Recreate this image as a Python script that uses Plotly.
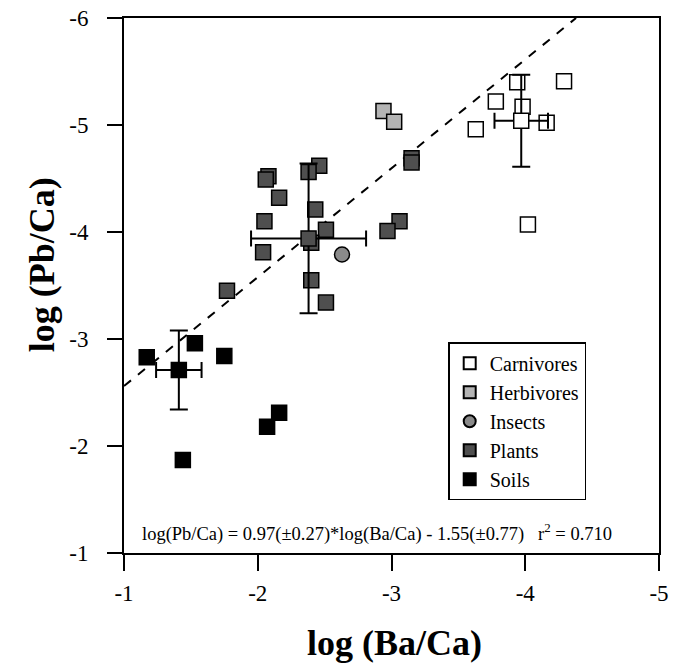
import plotly.graph_objects as go

# ---- data ----
carn_x = [-4.29, -3.94, -3.78, -3.98, -4.16, -3.63, -4.02]
carn_y = [-5.41, -5.40, -5.22, -5.17, -5.02, -4.96, -4.07]
carn_mean_x, carn_mean_y = [-3.97], [-5.04]
carn_err_x, carn_err_y = [0.20], [0.43]

herb_x = [-2.94, -3.02]
herb_y = [-5.13, -5.03]

ins_x = [-2.63]
ins_y = [-3.79]

plant_x = [-2.46, -2.38, -2.08, -2.06, -2.16, -2.43, -2.05, -2.51, -2.40, -2.04,
           -3.06, -2.97, -3.15, -3.15, -1.77, -2.40, -2.51]
plant_y = [-4.62, -4.56, -4.52, -4.49, -4.32, -4.21, -4.10, -4.02, -3.90, -3.81,
           -4.10, -4.01, -4.69, -4.65, -3.45, -3.55, -3.34]
plant_mean_x, plant_mean_y = [-2.38], [-3.94]
plant_err_x, plant_err_y = [0.43], [0.70]

soil_x = [-1.17, -1.53, -1.75, -2.16, -2.07, -1.44]
soil_y = [-2.83, -2.96, -2.84, -2.31, -2.18, -1.87]
soil_mean_x, soil_mean_y = [-1.41], [-2.71]
soil_err_x, soil_err_y = [0.17], [0.37]

fit_x = [-1.0, -4.38]
fit_y = [-2.56, -6.0]

x_ticks = [-1, -2, -3, -4, -5]
y_ticks = [-1, -2, -3, -4, -5, -6]

FONT = "Liberation Serif, Times New Roman, serif"
SQ = 15
BORDER = dict(color="black", width=1.5)

fig = go.Figure()

fig.add_trace(go.Scatter(x=fit_x, y=fit_y, mode="lines",
                         line=dict(color="black", width=2, dash="dash"),
                         showlegend=False, hoverinfo="skip"))

def err(vals, w):
    return dict(type="data", array=vals, color="black", thickness=2, width=w)

# Carnivores
fig.add_trace(go.Scatter(x=carn_x, y=carn_y, mode="markers", name="Carnivores",
                         legendgroup="c",
                         marker=dict(symbol="square", size=SQ, color="white", line=BORDER)))
fig.add_trace(go.Scatter(x=carn_mean_x, y=carn_mean_y, mode="markers", showlegend=False,
                         error_x=err(carn_err_x, 8), error_y=err(carn_err_y, 9),
                         marker=dict(symbol="square", size=SQ, color="white", line=BORDER)))
# Herbivores
fig.add_trace(go.Scatter(x=herb_x, y=herb_y, mode="markers", name="Herbivores",
                         legendgroup="h",
                         marker=dict(symbol="square", size=SQ, color="#b4b4b4", line=BORDER)))
# Insects
fig.add_trace(go.Scatter(x=ins_x, y=ins_y, mode="markers", name="Insects",
                         legendgroup="i",
                         marker=dict(symbol="circle", size=SQ, color="#8a8a8a", line=BORDER)))
# Plants
fig.add_trace(go.Scatter(x=plant_x, y=plant_y, mode="markers", name="Plants",
                         legendgroup="p",
                         marker=dict(symbol="square", size=SQ, color="#4f4f4f", line=BORDER)))
fig.add_trace(go.Scatter(x=plant_mean_x, y=plant_mean_y, mode="markers", showlegend=False,
                         error_x=err(plant_err_x, 8), error_y=err(plant_err_y, 9),
                         marker=dict(symbol="square", size=SQ, color="#4f4f4f", line=BORDER)))
# Soils
fig.add_trace(go.Scatter(x=soil_x, y=soil_y, mode="markers", name="Soils",
                         legendgroup="s",
                         marker=dict(symbol="square", size=SQ, color="black", line=BORDER)))
fig.add_trace(go.Scatter(x=soil_mean_x, y=soil_mean_y, mode="markers", showlegend=False,
                         error_x=err(soil_err_x, 8), error_y=err(soil_err_y, 9),
                         marker=dict(symbol="square", size=SQ, color="black", line=BORDER)))

axis_common = dict(showline=True, linecolor="black", linewidth=2, mirror=True,
                   ticks="outside", tickwidth=2, tickcolor="black",
                   showgrid=False, zeroline=False, automargin=False,
                   tickfont=dict(family=FONT, size=23, color="black"))

fig.update_layout(
    width=678, height=666,
    margin=dict(l=124, r=19, t=18, b=113),
    paper_bgcolor="white", plot_bgcolor="white",
    font=dict(family=FONT, color="black"),
    xaxis=dict(range=[-1, -5], tickvals=x_ticks, ticktext=[str(v) for v in x_ticks],
               ticklen=16, ticklabelstandoff=2,
               **axis_common),
    yaxis=dict(range=[-1, -6], tickvals=y_ticks, ticktext=[str(v) for v in y_ticks],
               ticklen=15, ticklabelstandoff=14,
               **axis_common),
    legend=dict(x=0.606, y=0.394, xanchor="left", yanchor="top",
                bordercolor="black", borderwidth=1.5, bgcolor="white",
                font=dict(family=FONT, size=20), tracegroupgap=0,
                itemsizing="constant", entrywidth=124),
    annotations=[
        dict(text="log(Pb/Ca) = 0.97(±0.27)*log(Ba/Ca) - 1.55(±0.77)   r<sup>2</sup> = 0.710",
             xref="paper", yref="paper", x=0.472, y=0.039, xanchor="center", yanchor="middle",
             showarrow=False, font=dict(family=FONT, size=18.5, color="black")),
        dict(text="<b>log (Pb/Ca)</b>", textangle=-90,
             xref="paper", yref="paper", x=-0.153, y=0.538, xanchor="center", yanchor="middle",
             showarrow=False, font=dict(family=FONT, size=36, color="black")),
        dict(text="<b>log (Ba/Ca)</b>",
             xref="paper", yref="paper", x=0.5065, y=-0.168, xanchor="center", yanchor="middle",
             showarrow=False, font=dict(family=FONT, size=36, color="black")),
    ],
)

fig.write_html("out.html")
